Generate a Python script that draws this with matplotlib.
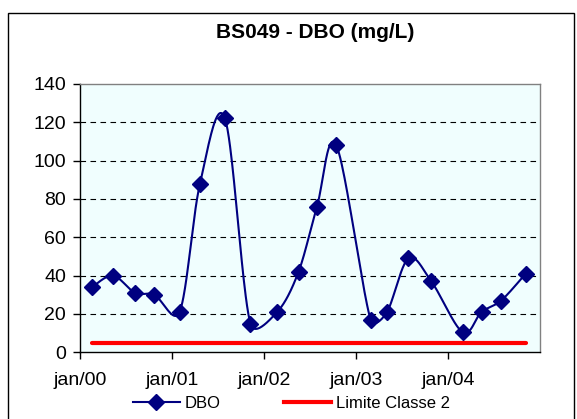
import numpy as np
import pandas as pd
import matplotlib
matplotlib.use("Agg")
import matplotlib.pyplot as plt
import matplotlib.dates as mdates
from matplotlib.patches import Rectangle

plt.rcParams['font.family'] = ['Liberation Sans', 'DejaVu Sans']

# Sampling dates and DBO values (mg/L)
dates = pd.to_datetime([
    "2000-02-18", "2000-05-11", "2000-08-07", "2000-10-22",
    "2001-01-30", "2001-04-21", "2001-07-29", "2001-11-07",
    "2002-02-21", "2002-05-17", "2002-07-29", "2002-10-14",
    "2003-02-27", "2003-05-03", "2003-07-27", "2003-10-26",
    "2004-02-27", "2004-05-12", "2004-07-29", "2004-11-03",
])
dbo = [34, 40, 31, 30,
       21, 88, 122, 15,
       21, 42, 76, 108,
       17, 21, 49, 37,
       10.5, 21, 27, 41]
limite = 5
tick_labels = ["jan/00", "jan/01", "jan/02", "jan/03", "jan/04"]
tick_dates = pd.to_datetime(["2000-01-01", "2001-01-01", "2002-01-01",
                             "2003-01-01", "2004-01-01"])

x_start = pd.Timestamp("2000-01-01")
x_end = pd.Timestamp("2004-12-30")
y_max = 140

# axes box in pixels
AX_LEFT, AX_RIGHT, AX_TOP, AX_BOTTOM = 80, 540, 84, 352.3


def smooth(x, y, sx, sy, n=40):
    """Bezier smoothing in screen space; tangents are (P[i+1]-P[i-1])/6,
    capped at half of the adjoining segment length."""
    P = np.column_stack([np.asarray(x, float) * sx, np.asarray(y, float) * sy])
    Q = np.vstack([P[0], P, P[-1]])
    t = np.linspace(0, 1, n)[:, None]
    out = []
    for i in range(1, len(Q) - 2):
        p0, p3 = Q[i], Q[i + 1]
        seg = np.hypot(*(p3 - p0))
        t0 = (Q[i + 1] - Q[i - 1]) / 6
        t1 = (Q[i + 2] - Q[i]) / 6
        for tv in (t0, t1):
            L = np.hypot(*tv)
            if L > 0.5 * seg and L > 0:
                tv *= 0.5 * seg / L
        c1 = p0 + t0
        c2 = p3 - t1
        b = (1 - t) ** 3 * p0 + 3 * (1 - t) ** 2 * t * c1 \
            + 3 * (1 - t) * t ** 2 * c2 + t ** 3 * p3
        out.append(b)
    B = np.vstack(out)
    return B[:, 0] / sx, B[:, 1] / sy


fig = plt.figure(figsize=(5.77, 4.19), dpi=100)
fig.patches.append(Rectangle((8 / 577, -0.1), 566 / 577, 1.1 - 13 / 419,
                             transform=fig.transFigure, fill=False,
                             edgecolor='black', linewidth=1.0))

ax = fig.add_axes([AX_LEFT / 577, 1 - AX_BOTTOM / 419,
                   (AX_RIGHT - AX_LEFT) / 577, (AX_BOTTOM - AX_TOP) / 419])
ax.set_facecolor('#F0FEFE')

x0 = mdates.date2num(x_start)
x1 = mdates.date2num(x_end)
xnum = mdates.date2num(dates)
px_per_day = (AX_RIGHT - AX_LEFT) / (x1 - x0)
px_per_unit = (AX_BOTTOM - AX_TOP) / y_max
cx, cy = smooth(xnum - x0, dbo, px_per_day, px_per_unit)
ax.plot(cx + x0, cy, color='#000080', linewidth=1.5, zorder=3)
ax.plot(xnum, dbo, linestyle='none', marker='D', markersize=8,
        color='#000080', zorder=4)
ax.plot([xnum[0], xnum[-1]], [limite, limite], color='#FF0000',
        linewidth=3, solid_capstyle='round', zorder=2)

ax.set_xlim(x0, x1)
ax.set_ylim(0, y_max)
ax.set_yticks(range(0, y_max + 1, 20))
ax.set_xticks(mdates.date2num(tick_dates))
ax.set_xticklabels(tick_labels)

for v in range(20, y_max, 20):
    ax.axhline(v, color='black', linestyle=(0, (5, 4)), linewidth=0.8, zorder=1)

ax.tick_params(axis='both', direction='out', length=5, width=1, labelsize=14)
ax.tick_params(axis='x', pad=9)
ax.tick_params(axis='y', pad=5)
ax.spines['left'].set_color('black')
ax.spines['bottom'].set_color('black')
ax.spines['top'].set_color('#808080')
ax.spines['right'].set_color('#808080')
for s in ax.spines.values():
    s.set_linewidth(1.0)

fig.text(315 / 577, 1 - 32 / 419, "BS049 - DBO (mg/L)", ha='center', va='center',
         fontsize=15, fontweight='bold')

h1, = ax.plot([], [], color='#000080', linewidth=1.5, marker='D', markersize=8)
h2, = ax.plot([], [], color='#FF0000', linewidth=3)
fig.legend([h1, h2], ["DBO", "Limite Classe 2"], loc='center',
           bbox_to_anchor=(0.505, 1 - 403 / 419), ncol=2, frameon=False,
           fontsize=12, handlelength=2.8, handletextpad=0.3, columnspacing=3.8)

fig.savefig("out.png", dpi=100)
